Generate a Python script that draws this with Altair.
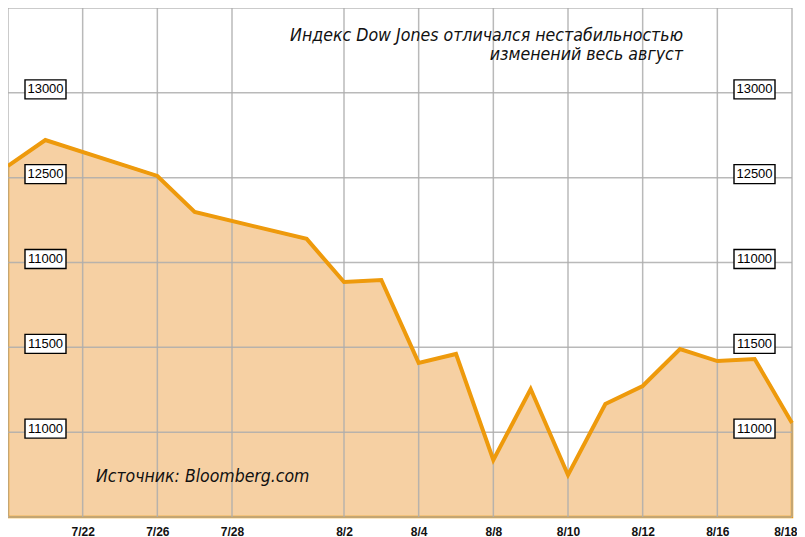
import altair as alt
import pandas as pd

# Trading days shown on the x axis (one slot per session)
trading_days = ["7/20", "7/21", "7/22", "7/25", "7/26", "7/27", "7/28", "7/29",
                "8/1", "8/2", "8/3", "8/4", "8/5", "8/8", "8/9", "8/10",
                "8/11", "8/12", "8/15", "8/16", "8/17", "8/18"]

# Plotted closing values
point_dates = ["7/20", "7/21", "7/26", "7/27", "8/1", "8/2", "8/3", "8/4", "8/5",
               "8/8", "8/9", "8/10", "8/11", "8/12", "8/15", "8/16", "8/17", "8/18"]
point_values = [12569, 12722, 12510, 12298, 12139, 11885, 11897, 11408, 11461,
                10836, 11254, 10748, 11166, 11272, 11490, 11419, 11431, 11054]

# x tick labels
tick_labels = ["7/20", "7/22", "7/26", "7/28", "8/2", "8/4", "8/8", "8/10", "8/12", "8/16", "8/18"]
shown_tick_labels = ["7/22", "7/26", "7/28", "8/2", "8/4", "8/8", "8/10", "8/12", "8/16", "8/18"]

# y grid and boxed labels (label text as printed in the original)
y_grid = [10500, 11000, 11500, 12000, 12500, 13000, 13500]
y_label_values = [13000, 12500, 12000, 11500, 11000]
y_label_text = ["13000", "12500", "11000", "11500", "11000"]

title_lines = ["Индекс Dow Jones отличался нестабильностью", "изменений весь август"]
source_text = "Источник: Bloomberg.com"

Y_MIN, Y_MAX = 10500, 13500
LAST = len(trading_days) - 1

df = pd.DataFrame({
    "day": [trading_days.index(d) for d in point_dates],
    "date": point_dates,
    "value": point_values,
})
xgrid_df = pd.DataFrame({"day": [trading_days.index(d) for d in tick_labels]})
ygrid_df = pd.DataFrame({"value": y_grid})
ylab_df = pd.DataFrame({"value": y_label_values, "text": y_label_text})

W, H = 784, 509
xscale = alt.Scale(domain=[0, LAST], nice=False, zero=False)
yscale = alt.Scale(domain=[Y_MIN, Y_MAX], nice=False, zero=False)

label_expr = "[" + ",".join("'%s'" % d for d in trading_days) + "][datum.value]"
xaxis = alt.Axis(values=[trading_days.index(d) for d in shown_tick_labels],
                 labelExpr=label_expr, grid=False, domain=False, ticks=False,
                 labelFont="Liberation Sans", labelFontWeight="bold", labelFontSize=12,
                 labelColor="#111111", labelPadding=9, title=None, labelFlush=False,
                 labelAlign={"condition": {"test": "datum.value == %d" % LAST, "value": "right"},
                             "value": "center"},
                 labelOffset={"condition": {"test": "datum.value == %d" % LAST, "value": 5},
                              "value": 0})

ORANGE = "#EE9A0C"
FILL = "#F6D0A3"
GRID = "#ADADAD"

area = alt.Chart(df).mark_area(color=FILL, stroke=ORANGE, strokeWidth=2.5, opacity=1).encode(
    x=alt.X("day:Q", scale=xscale, axis=xaxis),
    y=alt.Y("value:Q", scale=yscale, axis=None),
    y2=alt.datum(Y_MIN),
)

vgrid = alt.Chart(xgrid_df).mark_rule(color=GRID, strokeWidth=1.5, opacity=0.85).encode(
    x=alt.X("day:Q", scale=xscale, axis=xaxis),
)
hgrid = alt.Chart(ygrid_df).mark_rule(color=GRID, strokeWidth=1.5, opacity=0.85).encode(
    y=alt.Y("value:Q", scale=yscale, axis=None),
)

line = alt.Chart(df).mark_line(color=ORANGE, strokeWidth=4, strokeJoin="miter").encode(
    x=alt.X("day:Q", scale=xscale, axis=xaxis),
    y=alt.Y("value:Q", scale=yscale, axis=None),
)

def boxed_labels(x0, x1):
    box = alt.Chart(ylab_df).mark_rect(fill="white", stroke="black", strokeWidth=1.4,
                                       yOffset=-13, y2Offset=6).encode(
        x=alt.value(x0), x2=alt.value(x1),
        y=alt.Y("value:Q", scale=yscale, axis=None),
        y2=alt.Y2("value:Q"),
    )
    txt = alt.Chart(ylab_df).mark_text(font="Liberation Sans", fontSize=13, color="black",
                                       align="center", baseline="middle", dy=-3.5).encode(
        x=alt.value((x0 + x1) / 2),
        y=alt.Y("value:Q", scale=yscale, axis=None),
        text="text:N",
    )
    return box + txt

TFONT = "Liberation Sans Narrow, DejaVu Sans Condensed, Roboto Condensed, Liberation Sans, sans-serif"
title_df = pd.DataFrame({"text": title_lines, "line": [0, 1]})
title = alt.Chart(title_df).mark_text(font=TFONT, fontSize=17.6, fontStyle="italic", color="#111111",
                                      align="right", baseline="middle").encode(
    x=alt.value(675),
    y=alt.Y("line:Q", scale=alt.Scale(domain=[0, 1], range=[28, 47]), axis=None),
    text="text:N",
)
source = alt.Chart(pd.DataFrame({"text": [source_text]})).mark_text(
    font=TFONT, fontSize=17.5, fontStyle="italic", color="#111111",
    align="left", baseline="middle").encode(
    x=alt.value(88), y=alt.value(469), text="text:N")

chart = alt.layer(area, vgrid, hgrid, line, boxed_labels(17, 58), boxed_labels(726, 767),
                  title, source).resolve_scale(y="independent").properties(
    width=W, height=H,
    autosize=alt.AutoSizeParams(type="none"),
    padding={"left": 0, "top": 0, "right": 5, "bottom": 22},
).configure_view(stroke=None)

chart.save("out.html", embed_options={"renderer": "svg", "actions": False})
